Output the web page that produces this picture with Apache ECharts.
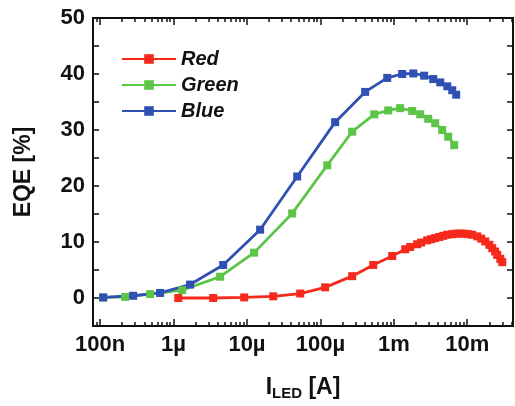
<!DOCTYPE html>
<html>
<head>
<meta charset="utf-8">
<script src="https://cdn.jsdelivr.net/npm/echarts@6/dist/echarts.min.js"></script>
<style>
  html, body { margin: 0; padding: 0; background: #fff; }
  #chart { width: 515px; height: 406px; }
</style>
</head>
<body>
<div id="chart"></div>
<script>
// current [A] and EQE [%]
const redI = [1.16e-6, 3.47e-6, 9.17e-6, 2.28e-5, 5.31e-5, 1.16e-4, 2.71e-4, 5.24e-4, 9.51e-4, 1.43e-3,
  1.67e-3, 2.08e-3, 2.36e-3, 2.85e-3, 3.24e-3, 3.66e-3, 4.16e-3, 4.71e-3, 5.35e-3, 6.25e-3,
  7.08e-3, 8.04e-3, 9.10e-3, 1.03e-2, 1.17e-2, 1.37e-2, 1.55e-2, 1.76e-2, 2.00e-2, 2.19e-2,
  2.40e-2, 2.56e-2, 2.82e-2, 3.00e-2];
const redEQE = [0, 0, 0.1, 0.3, 0.8, 1.9, 3.9, 5.9, 7.5, 8.7,
  9.1, 9.6, 9.9, 10.3, 10.5, 10.7, 10.9, 11.1, 11.3, 11.4,
  11.5, 11.5, 11.5, 11.4, 11.3, 11.0, 10.6, 10.1, 9.5, 8.9,
  8.3, 7.7, 7.0, 6.4];

const greenI = [1.10e-7, 2.19e-7, 4.80e-7, 1.31e-6, 4.31e-6, 1.25e-5, 4.13e-5, 1.24e-4, 2.71e-4, 5.41e-4,
  8.39e-4, 1.22e-3, 1.78e-3, 2.29e-3, 2.94e-3, 3.66e-3, 4.56e-3, 5.51e-3, 6.65e-3];
const greenEQE = [0.1, 0.2, 0.7, 1.4, 3.8, 8.1, 15.1, 23.7, 29.7, 32.8,
  33.5, 33.9, 33.4, 32.8, 32.0, 31.2, 30.0, 28.8, 27.3];

const blueI = [1.10e-7, 2.82e-7, 6.56e-7, 1.68e-6, 4.74e-6, 1.51e-5, 4.83e-5, 1.59e-4, 4.07e-4, 8.13e-4,
  1.30e-3, 1.84e-3, 2.59e-3, 3.44e-3, 4.29e-3, 5.35e-3, 6.25e-3, 7.08e-3];
const blueEQE = [0.1, 0.4, 0.9, 2.4, 5.9, 12.2, 21.7, 31.4, 36.8, 39.3,
  40.0, 40.1, 39.7, 39.1, 38.5, 37.8, 37.1, 36.3];

const xTicks = [1e-7, 1e-6, 1e-5, 1e-4, 1e-3, 1e-2];
const xTickLabels = ['100n', '1µ', '10µ', '100µ', '1m', '10m'];
const xMin = 8e-8, xMax = 4.2e-2;

let xMinor = [];
[1e-8].concat(xTicks).forEach(function (d) {
  for (let k = 2; k <= 9; k++) {
    const v = +(d * k).toPrecision(3);
    if (v >= xMin && v <= xMax) xMinor.push(v);
  }
});

const chart = echarts.init(document.getElementById('chart'));
const font = 'Liberation Sans, Arial, sans-serif';
const black = '#111';

function pairs(xs, ys) { return xs.map((x, i) => [x, ys[i]]); }

function xAxisDef(pos, ticks, len, labels) {
  return {
    type: 'log', logBase: 10, min: xMin, max: xMax, position: pos,
    axisLine: { show: true, onZero: false, lineStyle: { color: black, width: 2 } },
    axisTick: { show: true, inside: true, length: len, customValues: ticks, lineStyle: { color: black, width: 1.5 } },
    axisLabel: labels ? {
      show: true, customValues: xTicks, margin: 8, color: black, fontFamily: font, fontWeight: 'bold', fontSize: 22,
      formatter: function (v) {
        const i = xTicks.findIndex(t => Math.abs(Math.log10(t) - Math.log10(v)) < 1e-6);
        return i >= 0 ? xTickLabels[i] : '';
      }
    } : { show: false },
    splitLine: { show: false }
  };
}

function yAxisDef(pos, labels) {
  return {
    type: 'value', min: -5, max: 50, interval: 5, position: pos,
    axisLine: { show: true, onZero: false, lineStyle: { color: black, width: 2 } },
    axisTick: { show: true, inside: true, length: 6, lineStyle: { color: black, width: 1.5 } },
    axisLabel: labels ? {
      show: true, margin: 8, color: black, fontFamily: font, fontWeight: 'bold', fontSize: 22,
      formatter: v => (v % 10 === 0 ? String(v) : '')
    } : { show: false },
    splitLine: { show: false }
  };
}

const xAxes = [
  xAxisDef('bottom', xTicks, 7, true),
  xAxisDef('bottom', xMinor, 4, false),
  xAxisDef('top', xTicks, 7, false),
  xAxisDef('top', xMinor, 4, false)
];
xAxes[0].name = '{a|I}{b|LED}{a| [A]}';
xAxes[0].nameLocation = 'middle';
xAxes[0].nameGap = 48;
xAxes[0].nameTextStyle = {
  rich: {
    a: { fontFamily: font, fontWeight: 'bold', fontSize: 23, color: black },
    b: { fontFamily: font, fontWeight: 'bold', fontSize: 15, color: black, padding: [12, 0, 0, 0] }
  }
};

const yAxes = [yAxisDef('left', true), yAxisDef('right', false)];
yAxes[0].name = 'EQE [%]';
yAxes[0].nameLocation = 'middle';
yAxes[0].nameGap = 58;
yAxes[0].nameTextStyle = { fontFamily: font, fontWeight: 'bold', fontSize: 23, color: black };

function line(name, color, xs, ys) {
  return {
    name: name, type: 'line', xAxisIndex: 0, yAxisIndex: 0,
    data: pairs(xs, ys), symbol: 'rect', symbolSize: 8, showAllSymbol: true,
    itemStyle: { color: color }, lineStyle: { color: color, width: 2.8 },
    animation: false
  };
}

chart.setOption({
  animation: false,
  grid: { left: 93, right: 2, top: 18, bottom: 79, containLabel: false },
  legend: {
    orient: 'vertical', left: 116, top: 44,
    itemWidth: 54, itemHeight: 12, itemGap: 6,
    textStyle: { fontFamily: font, fontWeight: 'bold', fontStyle: 'italic', fontSize: 20, color: black },
    data: ['Red', 'Green', 'Blue']
  },
  xAxis: xAxes,
  yAxis: yAxes,
  series: [
    line('Red', '#f5291c', redI, redEQE),
    line('Green', '#5cc447', greenI, greenEQE),
    line('Blue', '#3050b4', blueI, blueEQE)
  ]
});
</script>
</body>
</html>
